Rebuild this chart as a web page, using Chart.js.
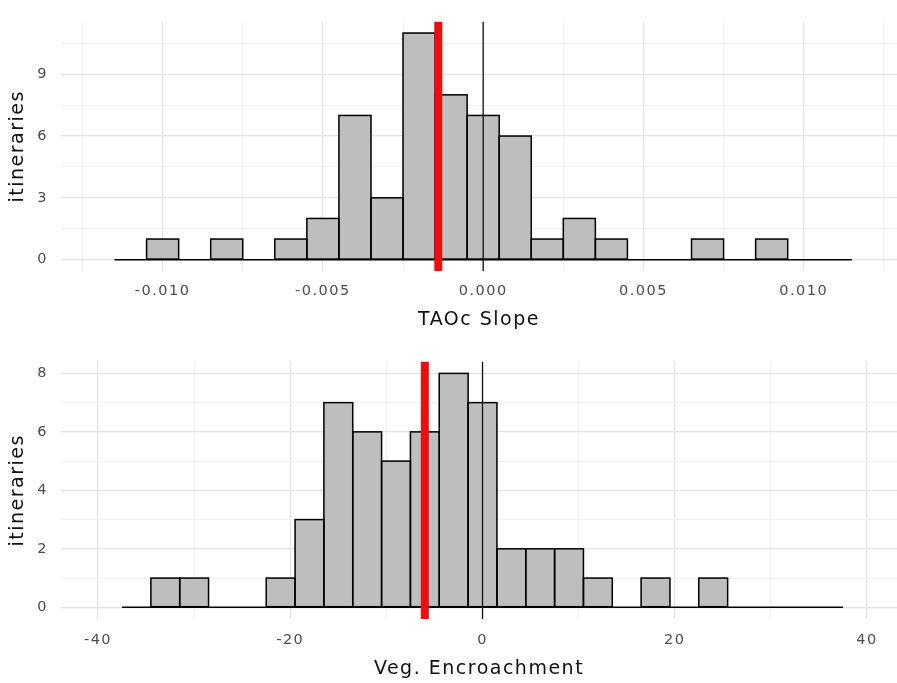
<!DOCTYPE html>
<html>
<head>
<meta charset="utf-8">
<script src="https://cdn.jsdelivr.net/npm/chart.js@4.4.1/dist/chart.umd.min.js"></script>
<style>
  html, body { margin: 0; padding: 0; background: #ffffff; overflow: hidden; }
  canvas { position: absolute; left: 0; }
  #slopeChart { top: 0; }
  #vegChart { top: 340px; }
</style>
</head>
<body>
<canvas id="slopeChart" width="897" height="340"></canvas>
<canvas id="vegChart" width="897" height="343"></canvas>
<script>
// TAOc slope: bin centres (bin width 0.001) and number of itineraries per bin
const slopeBins = [-0.011, -0.010, -0.009, -0.008, -0.007, -0.006, -0.005, -0.004, -0.003, -0.002, -0.001, 0,
                   0.001, 0.002, 0.003, 0.004, 0.005, 0.006, 0.007, 0.008, 0.009, 0.010, 0.011];
const slopeCounts = [0, 1, 0, 1, 0, 1, 2, 7, 3, 11, 8, 7, 6, 1, 2, 1, 0, 0, 1, 0, 1, 0, 0];
const slopeMean = -0.0014;
const slopeTicks = [-0.010, -0.005, 0, 0.005, 0.010];
const slopeTickLabels = ['-0.010', '-0.005', '0.000', '0.005', '0.010'];
const slopeCountTicks = [0, 3, 6, 9];

// Vegetation encroachment: bin centres (bin width 3) and number of itineraries per bin
const vegBins = [-36, -33, -30, -27, -24, -21, -18, -15, -12, -9, -6, -3, 0,
                 3, 6, 9, 12, 15, 18, 21, 24, 27, 30, 33, 36];
const vegCounts = [0, 1, 1, 0, 0, 1, 3, 7, 6, 5, 6, 8, 7, 2, 2, 2, 1, 0, 1, 0, 1, 0, 0, 0, 0];
const vegMean = -6;
const vegTicks = [-40, -20, 0, 20, 40];
const vegTickLabels = ['-40', '-20', '0', '20', '40'];
const vegCountTicks = [0, 2, 4, 6, 8];

const FONT = '"DejaVu Sans", "Liberation Sans", Arial, sans-serif';
const TEXT_SPACING = '1.5px';

// Minor grid positions sit halfway between major breaks
function withMinor(majors, min, max) {
  const step = majors[1] - majors[0];
  const minors = majors.map(v => v - step / 2).concat([majors[majors.length - 1] + step / 2]);
  return majors.concat(minors).filter(v => v >= min && v <= max).sort((a, b) => a - b);
}
const isMajor = (v, majors) => majors.some(m => Math.abs(m - v) < 1e-9);

// Bar outlines, zero-count baseline and vertical reference lines
const histDecor = {
  id: 'histDecor',
  beforeLayout(chart) { chart.ctx.letterSpacing = TEXT_SPACING; },
  beforeDraw(chart) { chart.ctx.letterSpacing = TEXT_SPACING; },
  afterDatasetsDraw(chart, args, opts) {
    const ctx = chart.ctx;
    const bars = chart.getDatasetMeta(0).data;
    const data = chart.data.datasets[0].data;
    ctx.save();
    ctx.strokeStyle = '#000000';
    ctx.lineWidth = 1.5;
    ctx.lineJoin = 'miter';
    const first = bars[0].getProps(['x', 'width', 'base'], true);
    const last = bars[bars.length - 1].getProps(['x', 'width', 'base'], true);
    ctx.beginPath();
    ctx.moveTo(first.x - first.width / 2, first.base);
    ctx.lineTo(last.x + last.width / 2, last.base);
    ctx.stroke();
    bars.forEach((bar, i) => {
      if (!data[i].y) return;
      const p = bar.getProps(['x', 'y', 'base', 'width'], true);
      ctx.strokeRect(p.x - p.width / 2, p.y, p.width, p.base - p.y);
    });
    const xs = chart.scales.x;
    const area = chart.chartArea;
    ctx.lineCap = 'butt';
    opts.lines.forEach(l => {
      const px = xs.getPixelForValue(l.value);
      ctx.beginPath();
      ctx.strokeStyle = l.color;
      ctx.lineWidth = l.width;
      ctx.moveTo(px, area.top);
      ctx.lineTo(px, area.bottom);
      ctx.stroke();
    });
    ctx.restore();
  }
};

function histogram(canvasId, cfg) {
  const maxCount = Math.max(...cfg.counts);
  const yMin = -0.05 * maxCount, yMax = 1.05 * maxCount;
  const xGrid = withMinor(cfg.xTicks, cfg.xMin, cfg.xMax);
  const yGrid = withMinor(cfg.yTicks, yMin, yMax);
  const gridColor = majors => c => isMajor(c.tick.value, majors) ? '#E3E3E3' : '#EEEEEE';
  const gridWidth = majors => c => isMajor(c.tick.value, majors) ? 1.2 : 0.9;

  return new Chart(document.getElementById(canvasId), {
    type: 'bar',
    data: {
      datasets: [{
        data: cfg.bins.map((b, i) => ({ x: b, y: cfg.counts[i] })),
        backgroundColor: '#BEBEBE',
        borderWidth: 0,
        barPercentage: 1,
        categoryPercentage: 1
      }]
    },
    plugins: [histDecor],
    options: {
      responsive: false,
      animation: false,
      devicePixelRatio: 1,
      events: [],
      layout: { padding: { top: cfg.areaTop, left: 0, right: 0, bottom: 0 } },
      plugins: {
        legend: { display: false },
        tooltip: { enabled: false },
        histDecor: {
          lines: [
            { value: 0, color: '#111111', width: 1.3 },
            { value: cfg.mean, color: '#E81010', width: 8 }
          ]
        }
      },
      scales: {
        x: {
          type: 'linear',
          min: cfg.xMin,
          max: cfg.xMax,
          offset: false,
          grid: { offset: false, drawTicks: false, color: gridColor(cfg.xTicks), lineWidth: gridWidth(cfg.xTicks) },
          border: { display: false },
          afterBuildTicks: s => { s.ticks = xGrid.map(v => ({ value: v })); },
          afterFit: s => { s.height = cfg.xAxisHeight; },
          ticks: {
            autoSkip: false,
            maxRotation: 0,
            padding: cfg.xTickPad,
            color: '#4D4D4D',
            font: { family: FONT, size: 14.5 },
            callback: v => {
              const k = cfg.xTicks.findIndex(m => Math.abs(m - v) < 1e-9);
              return k >= 0 ? cfg.xLabels[k] : '';
            }
          },
          title: {
            display: true,
            text: cfg.xTitle,
            color: '#111111',
            font: { family: FONT, size: 19 },
            padding: { top: 0, bottom: cfg.xTitlePad }
          }
        },
        y: {
          type: 'linear',
          min: yMin,
          max: yMax,
          grid: { drawTicks: false, color: gridColor(cfg.yTicks), lineWidth: gridWidth(cfg.yTicks) },
          border: { display: false },
          afterBuildTicks: s => { s.ticks = yGrid.map(v => ({ value: v })); },
          afterFit: s => { s.width = 61; },
          ticks: {
            autoSkip: false,
            padding: 13,
            color: '#4D4D4D',
            font: { family: FONT, size: 14.5 },
            callback: v => isMajor(v, cfg.yTicks) ? String(v) : ''
          },
          title: {
            display: true,
            text: 'itineraries',
            color: '#111111',
            font: { family: FONT, size: 19 },
            padding: { top: 7, bottom: 0 }
          }
        }
      }
    }
  });
}

histogram('slopeChart', {
  bins: slopeBins, counts: slopeCounts, mean: slopeMean,
  xTicks: slopeTicks, xLabels: slopeTickLabels, yTicks: slopeCountTicks,
  xMin: -0.01317, xMax: 0.01291,
  xTitle: 'TAOc Slope',
  areaTop: 10, xAxisHeight: 69, xTickPad: 12, xTitlePad: 8.6
});

histogram('vegChart', {
  bins: vegBins, counts: vegCounts, mean: vegMean,
  xTicks: vegTicks, xLabels: vegTickLabels, yTicks: vegCountTicks,
  xMin: -43.85, xMax: 43.12,
  xTitle: 'Veg. Encroachment',
  areaTop: 18.8, xAxisHeight: 64, xTickPad: 13, xTitlePad: 2.6
});
</script>
</body>
</html>
